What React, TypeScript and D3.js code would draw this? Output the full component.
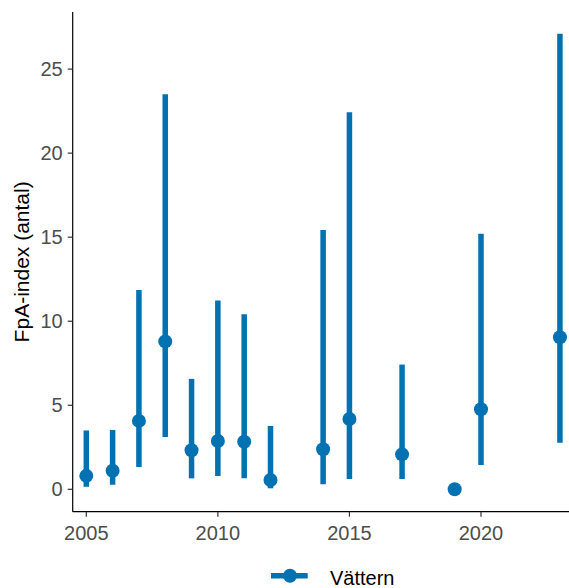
import React from "react";
import * as d3 from "d3";

const years = [2005, 2006, 2007, 2008, 2009, 2010, 2011, 2012, 2014, 2015, 2017, 2019, 2020, 2023];
const estimates = [0.8, 1.1, 4.07, 8.8, 2.32, 2.87, 2.83, 0.55, 2.38, 4.18, 2.08, 0, 4.76, 9.05];
const lowers = [0.15, 0.27, 1.33, 3.11, 0.65, 0.79, 0.65, 0.06, 0.3, 0.61, 0.61, 0, 1.45, 2.77];
const uppers = [3.5, 3.53, 11.86, 23.5, 6.57, 11.23, 10.42, 3.77, 15.43, 22.44, 7.42, 0, 15.2, 27.1];
const xTicks = [2005, 2010, 2015, 2020];
const yTicks = [0, 5, 10, 15, 20, 25];
const seriesName = "Vättern";
const yTitle = "FpA-index (antal)";

const COLOR = "#0072B2";
const FONT = "'Liberation Sans', Arial, Helvetica, sans-serif";

export default function App() {
  const W = 569;
  const H = 588;
  const panelLeft = 72.7;
  const panelTop = 12;
  const panelBottom = 511.7;
  const panelRight = 569;

  const x = d3.scaleLinear().domain([2005, 2020]).range([86.3, 481]);
  const y = d3.scaleLinear().domain([0, 25]).range([489.3, 69.1]);

  const data = years.map((yr, i) => ({ yr, est: estimates[i], lo: lowers[i], hi: uppers[i] }));

  return (
    <svg
      width={W}
      height={H}
      style={{ position: "absolute", left: 0, top: 0, background: "#fff" }}
      fontFamily={FONT}
    >
      <rect x={0} y={0} width={W} height={H} fill="#fff" />
      {/* error bars */}
      {data.map((d) =>
        d.hi > d.lo ? (
          <line
            key={"e" + d.yr}
            x1={x(d.yr)}
            x2={x(d.yr)}
            y1={y(d.lo)}
            y2={y(d.hi)}
            stroke={COLOR}
            strokeWidth={5.5}
          />
        ) : null
      )}
      {/* points */}
      {data.map((d) => (
        <circle key={"p" + d.yr} cx={x(d.yr)} cy={y(d.est)} r={7} fill={COLOR} />
      ))}
      {/* axes */}
      <line x1={panelLeft} x2={panelLeft} y1={panelTop} y2={panelBottom} stroke="#000" strokeWidth={1.2} />
      <line x1={panelLeft} x2={panelRight} y1={panelBottom} y2={panelBottom} stroke="#000" strokeWidth={1.2} />
      {yTicks.map((t) => (
        <g key={"yt" + t}>
          <line x1={panelLeft - 5} x2={panelLeft} y1={y(t)} y2={y(t)} stroke="#333" strokeWidth={1.2} />
          <text
            x={panelLeft - 10}
            y={y(t)}
            textAnchor="end"
            dominantBaseline="central"
            fontSize={20}
            fill="#4D4D4D"
          >
            {t}
          </text>
        </g>
      ))}
      {xTicks.map((t) => (
        <g key={"xt" + t}>
          <line x1={x(t)} x2={x(t)} y1={panelBottom} y2={panelBottom + 5} stroke="#333" strokeWidth={1.2} />
          <text x={x(t)} y={540} textAnchor="middle" fontSize={20} fill="#4D4D4D">
            {t}
          </text>
        </g>
      ))}
      {/* y title */}
      <text
        transform={`translate(29, ${(panelTop + panelBottom) / 2}) rotate(-90)`}
        textAnchor="middle"
        fontSize={21}
        fill="#000"
      >
        {yTitle}
      </text>
      {/* legend */}
      <g>
        <line x1={271} x2={307.7} y1={575.7} y2={575.7} stroke={COLOR} strokeWidth={5.5} />
        <circle cx={290} cy={575.7} r={7} fill={COLOR} />
        <text x={330} y={584.5} fontSize={20} fill="#000">
          {seriesName}
        </text>
      </g>
    </svg>
  );
}
